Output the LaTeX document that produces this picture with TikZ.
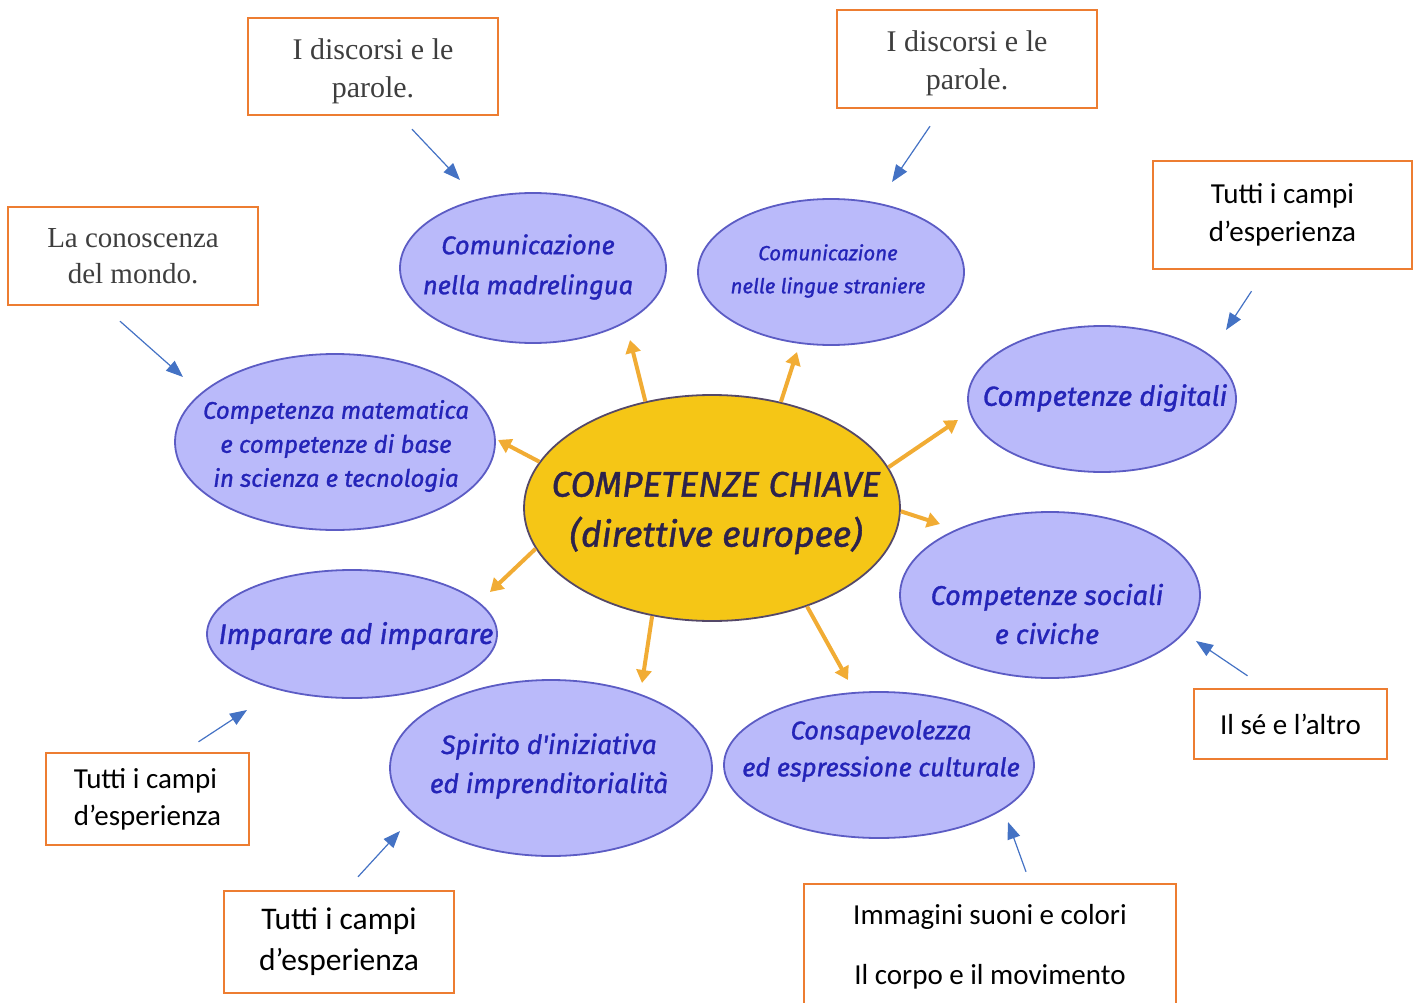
\documentclass[tikz,border=0pt]{standalone}
\usepackage{fontspec}
\setmainfont{Liberation Serif}
\newfontfamily\boxsans{Carlito}
\newfontfamily\blobfont{Fira Sans}[FakeBold=1.2]
\usetikzlibrary{shapes.geometric,arrows.meta}
\definecolor{boxorange}{RGB}{237,125,49}
\definecolor{pointerblue}{RGB}{68,114,196}
\definecolor{blobfill}{RGB}{186,186,250}
\definecolor{blobline}{RGB}{92,92,196}
\definecolor{blobink}{RGB}{36,36,184}
\definecolor{coregold}{RGB}{245,198,22}
\definecolor{coreline}{RGB}{84,72,104}
\definecolor{coreink}{RGB}{44,34,76}
\definecolor{rayorange}{RGB}{241,172,52}
\definecolor{serifgray}{RGB}{62,62,62}

\begin{document}
\begin{tikzpicture}[x=1pt,y=-1pt,
    blob/.style={ellipse, draw=blobline, fill=blobfill, line width=1.8pt, inner sep=0pt},
    blobtext/.style={text=blobink, align=center},
    fieldbox/.style={draw=boxorange, line width=2.4pt, inner sep=0pt, align=center},
    serifbox/.style={fieldbox, text=serifgray, font=\fontsize{30}{38}\selectfont},
    sansbox/.style={fieldbox, text=black, font=\boxsans\fontsize{29}{38}\selectfont},
    ray/.style={rayorange, line width=4pt, -{Triangle[length=13pt,width=15pt]}},
    pointer/.style={pointerblue, line width=1.2pt, -{Triangle[length=17pt,width=13pt]}}]

    \clip (0,0) rectangle (1415,1003);

    % Centre
    \node[ellipse, draw=coreline, fill=coregold, line width=1.8pt, inner sep=0pt,
          minimum width=376pt, minimum height=226pt] (core) at (712,508) {};
    \node[text=coreink, align=center, font=\blobfont\itshape\fontsize{35.5}{50}\selectfont]
          (core-t) at (716,513) {COMPETENZE CHIAVE\\(direttive europee)};

    % Competences
    \node[blob, minimum width=266pt, minimum height=150pt] (madre) at (533,268) {};
    \node[blobtext, font=\blobfont\itshape\fontsize{25.5}{40}\selectfont] (madre-t) at (528,267)
          {Comunicazione\\nella madrelingua};

    \node[blob, minimum width=266pt, minimum height=146pt] (lingue) at (831,272) {};
    \node[blobtext, font=\blobfont\itshape\fontsize{20.5}{33}\selectfont] (lingue-t) at (828,271)
          {Comunicazione\\nelle lingue straniere};

    \node[blob, minimum width=268pt, minimum height=146pt] (digitali) at (1102,399) {};
    \node[blobtext, font=\blobfont\itshape\fontsize{27.5}{40}\selectfont] (digitali-t) at (1105,398)
          {Competenze digitali};

    \node[blob, minimum width=320pt, minimum height=176pt] (mate) at (335,442) {};
    \node[blobtext, font=\blobfont\itshape\fontsize{24}{34}\selectfont] (mate-t) at (336,446)
          {Competenza matematica\\ e competenze di base\\in scienza e tecnologia};

    \node[blob, minimum width=300pt, minimum height=166pt] (sociali) at (1050,595) {};
    \node[blobtext, font=\blobfont\itshape\fontsize{27}{39}\selectfont] (sociali-t) at (1047,614)
          {Competenze sociali\\e civiche};

    \node[blob, minimum width=290pt, minimum height=128pt] (impara) at (352,634) {};
    \node[blobtext, font=\blobfont\itshape\fontsize{28}{40}\selectfont] (impara-t) at (356,636)
          {Imparare ad imparare};

    \node[blob, minimum width=322pt, minimum height=176pt] (spirito) at (551,768) {};
    \node[blobtext, font=\blobfont\itshape\fontsize{26.5}{39}\selectfont] (spirito-t) at (549,766)
          {Spirito d'iniziativa\\ed imprenditorialità};

    \node[blob, minimum width=310pt, minimum height=146pt] (consap) at (879,765) {};
    \node[blobtext, font=\blobfont\itshape\fontsize{25.5}{37}\selectfont] (consap-t) at (881,751)
          {Consapevolezza\\ed espressione culturale};

    % Rays from the centre
    \coordinate (madre-in) at (630,340);
    \coordinate (lingue-in) at (797,352);
    \coordinate (digitali-in) at (958,420);
    \coordinate (sociali-in) at (940,524);
    \coordinate (mate-in) at (498,440);
    \coordinate (impara-in) at (490,592);
    \coordinate (spirito-in) at (642,683);
    \coordinate (consap-in) at (848,680);
    \draw[ray] (core.122) -- (madre-in);
    \draw[ray] (core.57.5) -- (lingue-in);
    \draw[ray] (core.13) -- (digitali-in);
    \draw[ray] (core.-1) -- (sociali-in);
    \draw[ray] (core.165) -- (mate-in);
    \draw[ray] (core.193) -- (impara-in);
    \draw[ray] (core.241) -- (spirito-in);
    \draw[ray] (core.314) -- (consap-in);

    % Fields of experience
    \node[serifbox, minimum width=250pt, minimum height=97pt] (discorsiA) at (373,66.5)
          {\rule{0pt}{31pt}I discorsi e le\\parole.};
    \node[serifbox, minimum width=260pt, minimum height=98pt] (discorsiB) at (967,59)
          {\rule{0pt}{30pt}I discorsi e le\\parole.};
    \node[serifbox, minimum width=250pt, minimum height=98pt,
          font=\fontsize{29}{36}\selectfont] (mondo) at (133,256)
          {La conoscenza\\del mondo.};
    \node[sansbox, minimum width=259pt, minimum height=108pt] (campiD) at (1282.5,215)
          {Tutti i campi\\d’esperienza};
    \node[sansbox, minimum width=193pt, minimum height=70pt] (altro) at (1290.5,724)
          {Il sé e l’altro};
    \node[sansbox, minimum width=203pt, minimum height=92pt, align=left,
          font=\boxsans\fontsize{29}{37}\selectfont] (campiF) at (147.5,799)
          {Tutti i campi\\d’esperienza};
    \node[sansbox, minimum width=230pt, minimum height=102pt,
          font=\boxsans\fontsize{31.5}{41}\selectfont] (campiG) at (339,942)
          {Tutti i campi\\d’esperienza};
    \node[sansbox, minimum width=372pt, minimum height=126pt] (immagini) at (990,947)
          {Immagini suoni e colori\\[22pt]Il corpo e il movimento};

    % Pointers to the competences
    \coordinate (madre-a) at (460,180);
    \coordinate (lingue-b) at (892,182);
    \coordinate (mate-c) at (183,377);
    \coordinate (digitali-d) at (1226,330);
    \coordinate (sociali-e) at (1196,641);
    \coordinate (impara-f) at (247,710);
    \coordinate (spirito-g) at (400,831);
    \coordinate (consap-h) at (1008,822);
    \draw[pointer] ([shift={(39,13)}]discorsiA.south) -- (madre-a);
    \draw[pointer] ([shift={(-37,17)}]discorsiB.south) -- (lingue-b);
    \draw[pointer] ([shift={(-13,15)}]mondo.south) -- (mate-c);
    \draw[pointer] ([shift={(-31,21)}]campiD.south) -- (digitali-d);
    \draw[pointer] ([shift={(-43,-12)}]altro.north) -- (sociali-e);
    \draw[pointer] ([shift={(51,-10)}]campiF.north) -- (impara-f);
    \draw[pointer] ([shift={(19,-13)}]campiG.north) -- (spirito-g);
    \draw[pointer] ([shift={(36,-11)}]immagini.north) -- (consap-h);
\end{tikzpicture}
\end{document}
